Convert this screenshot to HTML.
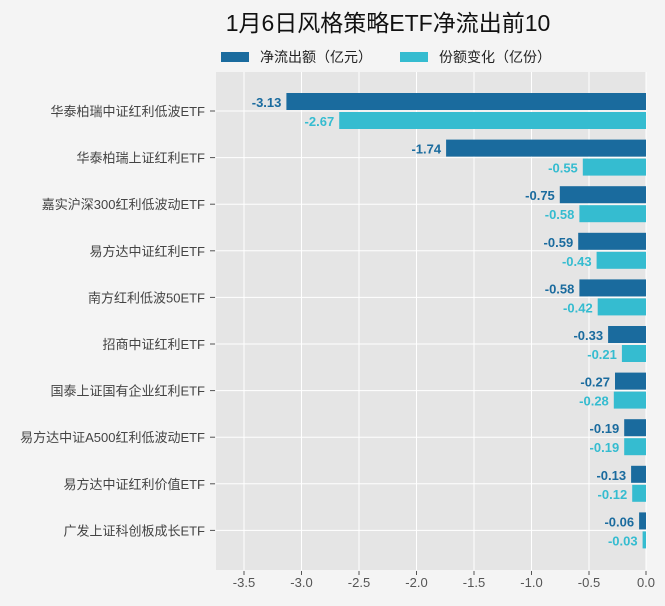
<!DOCTYPE html>
<html><head><meta charset="utf-8"><style>
body{margin:0;background:#f4f4f4;}
svg{display:block;font-family:"Liberation Sans","Noto Sans CJK SC",sans-serif;}
</style></head><body>
<svg width="665" height="606" viewBox="0 0 665 606" xmlns="http://www.w3.org/2000/svg">
<rect width="665" height="606" fill="#f4f4f4"/>
<text x="388" y="31" font-size="23" text-anchor="middle" fill="#111">1月6日风格策略ETF净流出前10</text>
<rect x="221" y="52" width="28" height="10" fill="#1a6b9e"/>
<text x="260" y="62" font-size="14" fill="#222">净流出额（亿元）</text>
<rect x="400" y="52" width="28" height="10" fill="#35bcd0"/>
<text x="439" y="62" font-size="14" fill="#222">份额变化（亿份）</text>
<rect x="216" y="72" width="430" height="498" fill="#e5e5e5"/>
<g stroke="#fff" stroke-width="1">
<line x1="244" y1="72" x2="244" y2="570"/><line x1="301.5" y1="72" x2="301.5" y2="570"/><line x1="359" y1="72" x2="359" y2="570"/><line x1="416.5" y1="72" x2="416.5" y2="570"/><line x1="474" y1="72" x2="474" y2="570"/><line x1="531.5" y1="72" x2="531.5" y2="570"/><line x1="589" y1="72" x2="589" y2="570"/><line x1="646" y1="72" x2="646" y2="570"/>
<line x1="216" y1="111" x2="646" y2="111"/><line x1="216" y1="157.6" x2="646" y2="157.6"/><line x1="216" y1="204.2" x2="646" y2="204.2"/><line x1="216" y1="250.8" x2="646" y2="250.8"/><line x1="216" y1="297.4" x2="646" y2="297.4"/><line x1="216" y1="344" x2="646" y2="344"/><line x1="216" y1="390.6" x2="646" y2="390.6"/><line x1="216" y1="437.2" x2="646" y2="437.2"/><line x1="216" y1="483.8" x2="646" y2="483.8"/><line x1="216" y1="530.4" x2="646" y2="530.4"/>
</g>
<g stroke="#555">
<line x1="210" y1="111" x2="215" y2="111"/><line x1="210" y1="157.6" x2="215" y2="157.6"/><line x1="210" y1="204.2" x2="215" y2="204.2"/><line x1="210" y1="250.8" x2="215" y2="250.8"/><line x1="210" y1="297.4" x2="215" y2="297.4"/><line x1="210" y1="344" x2="215" y2="344"/><line x1="210" y1="390.6" x2="215" y2="390.6"/><line x1="210" y1="437.2" x2="215" y2="437.2"/><line x1="210" y1="483.8" x2="215" y2="483.8"/><line x1="210" y1="530.4" x2="215" y2="530.4"/>
<line x1="244" y1="571" x2="244" y2="575"/><line x1="301.5" y1="571" x2="301.5" y2="575"/><line x1="359" y1="571" x2="359" y2="575"/><line x1="416.5" y1="571" x2="416.5" y2="575"/><line x1="474" y1="571" x2="474" y2="575"/><line x1="531.5" y1="571" x2="531.5" y2="575"/><line x1="589" y1="571" x2="589" y2="575"/><line x1="646" y1="571" x2="646" y2="575"/>
</g>
<g font-size="13" fill="#444" text-anchor="end">
<text x="205" y="116">华泰柏瑞中证红利低波ETF</text>
<text x="205" y="162.6">华泰柏瑞上证红利ETF</text>
<text x="205" y="209.2">嘉实沪深300红利低波动ETF</text>
<text x="205" y="255.8">易方达中证红利ETF</text>
<text x="205" y="302.4">南方红利低波50ETF</text>
<text x="205" y="349">招商中证红利ETF</text>
<text x="205" y="395.6">国泰上证国有企业红利ETF</text>
<text x="205" y="442.2">易方达中证A500红利低波动ETF</text>
<text x="205" y="488.8">易方达中证红利价值ETF</text>
<text x="205" y="535.4">广发上证科创板成长ETF</text>
</g>
<g fill="#1a6b9e">
<rect x="286.4" y="93" width="359.6" height="17"/>
<rect x="446.1" y="139.6" width="199.9" height="17"/>
<rect x="559.8" y="186.2" width="86.2" height="17"/>
<rect x="578.2" y="232.8" width="67.8" height="17"/>
<rect x="579.4" y="279.4" width="66.6" height="17"/>
<rect x="608.1" y="326" width="37.9" height="17"/>
<rect x="615" y="372.6" width="31" height="17"/>
<rect x="624.2" y="419.2" width="21.8" height="17"/>
<rect x="631.1" y="465.8" width="14.9" height="17"/>
<rect x="639.1" y="512.4" width="6.9" height="17"/>
</g>
<g fill="#35bcd0">
<rect x="339.2" y="112" width="306.8" height="17"/>
<rect x="582.8" y="158.6" width="63.2" height="17"/>
<rect x="579.4" y="205.2" width="66.6" height="17"/>
<rect x="596.6" y="251.8" width="49.4" height="17"/>
<rect x="597.7" y="298.4" width="48.3" height="17"/>
<rect x="621.9" y="345" width="24.1" height="17"/>
<rect x="613.8" y="391.6" width="32.2" height="17"/>
<rect x="624.2" y="438.2" width="21.8" height="17"/>
<rect x="632.2" y="484.8" width="13.8" height="17"/>
<rect x="642.6" y="531.4" width="3.4" height="17"/>
</g>
<g font-size="13" font-weight="bold" fill="#1a6b9e" text-anchor="end">
<text x="281.4" y="107">-3.13</text>
<text x="441.1" y="153.6">-1.74</text>
<text x="554.8" y="200.2">-0.75</text>
<text x="573.2" y="246.8">-0.59</text>
<text x="574.4" y="293.4">-0.58</text>
<text x="603.1" y="340">-0.33</text>
<text x="610" y="386.6">-0.27</text>
<text x="619.2" y="433.2">-0.19</text>
<text x="626.1" y="479.8">-0.13</text>
<text x="634.1" y="526.4">-0.06</text>
</g>
<g font-size="13" font-weight="bold" fill="#35bcd0" text-anchor="end">
<text x="334.2" y="126">-2.67</text>
<text x="577.8" y="172.6">-0.55</text>
<text x="574.4" y="219.2">-0.58</text>
<text x="591.6" y="265.8">-0.43</text>
<text x="592.7" y="312.4">-0.42</text>
<text x="616.9" y="359">-0.21</text>
<text x="608.8" y="405.6">-0.28</text>
<text x="619.2" y="452.2">-0.19</text>
<text x="627.2" y="498.8">-0.12</text>
<text x="637.6" y="545.4">-0.03</text>
</g>
<g font-size="13" fill="#555" text-anchor="middle">
<text x="244" y="587">-3.5</text><text x="301.5" y="587">-3.0</text><text x="359" y="587">-2.5</text><text x="416.5" y="587">-2.0</text><text x="474" y="587">-1.5</text><text x="531.5" y="587">-1.0</text><text x="589" y="587">-0.5</text><text x="646" y="587">0.0</text>
</g>
</svg>
</body></html>
